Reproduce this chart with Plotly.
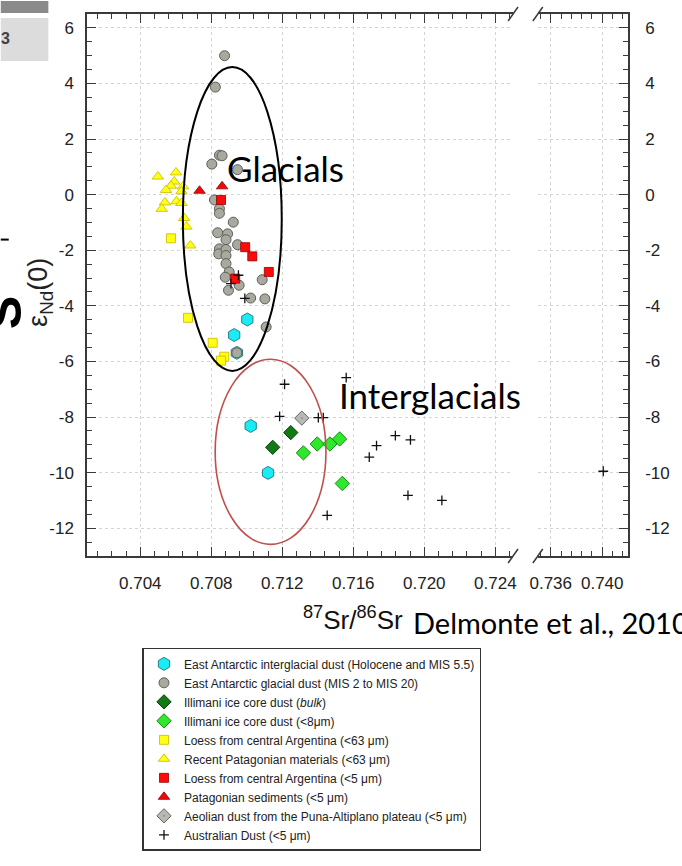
import plotly.graph_objects as go

# ---------------- data ----------------
cyan_x = [0.71003, 0.70929, 0.70944, 0.71022, 0.71120]
cyan_y = [-4.49, -5.05, -5.69, -8.32, -10.01]

gray_x = [0.70875, 0.70823, 0.70846, 0.70861, 0.70803, 0.70948, 0.70818, 0.70846,
          0.70846, 0.70924, 0.70836, 0.70892, 0.70883, 0.70948, 0.70846, 0.70842,
          0.70883, 0.70883, 0.70883, 0.70901, 0.70879, 0.70957, 0.70897, 0.71087,
          0.71022, 0.71102, 0.71109, 0.70944]
gray_y = [5.00, 3.87, 1.42, 1.40, 1.10, 0.90, -0.19, -0.51,
          -0.67, -0.99, -1.37, -1.41, -1.62, -1.80, -1.95, -2.13,
          -1.97, -2.19, -2.48, -2.78, -2.97, -3.26, -3.44, -3.06,
          -3.72, -3.75, -4.76, -5.69]

dkgreen_x = [0.71248, 0.71146]
dkgreen_y = [-8.56, -9.09]

ltgreen_x = [0.71397, 0.71468, 0.71523, 0.71319, 0.71538]
ltgreen_y = [-8.97, -8.97, -8.79, -9.29, -10.39]

ysq_x = [0.70573, 0.70669, 0.70808, 0.70873, 0.70855]
ysq_y = [-1.57, -4.43, -5.33, -5.83, -5.97]

ytri_x = [0.70499, 0.70601, 0.70591, 0.70573, 0.70545, 0.70641, 0.70632,
          0.70539, 0.70604, 0.70632, 0.70521, 0.70647, 0.70660, 0.70682]
ytri_y = [0.65, 0.80, 0.47, 0.32, 0.17, 0.30, 0.12,
          -0.28, -0.24, -0.30, -0.51, -0.84, -1.15, -1.83]

rsq_x = [0.70855, 0.70991, 0.71031, 0.71124, 0.70935]
rsq_y = [-0.19, -1.89, -2.22, -2.78, -3.02]

rtri_x = [0.70734, 0.70861]
rtri_y = [0.14, 0.30]

puna_x = [0.71310]
puna_y = [-8.04]

aus_x = [0.70953, 0.70911, 0.70989, 0.71213, 0.71560, 0.71185, 0.71403, 0.71431,
         0.71837, 0.71922, 0.71731, 0.71690, 0.71908, 0.72099, 0.71453]
aus_y = [-2.90, -3.20, -3.73, -6.82, -6.58, -7.98, -8.02, -8.02,
         -8.67, -8.82, -9.03, -9.44, -10.82, -11.00, -11.54]
aus_far_x = [0.74008]
aus_far_y = [-9.95]

legend_names = [
    "East Antarctic interglacial dust (Holocene and MIS 5.5)",
    "East Antarctic glacial dust (MIS 2 to MIS 20)",
    "Illimani ice core dust (<i>bulk</i>)",
    "Illimani ice core dust (&lt;8\u03bcm)",
    "Loess from central Argentina (&lt;63 \u03bcm)",
    "Recent Patagonian materials (&lt;63 \u03bcm)",
    "Loess from central Argentina (&lt;5 \u03bcm)",
    "Patagonian sediments (&lt;5 \u03bcm)",
    "Aeolian dust from the Puna-Altiplano plateau (&lt;5 \u03bcm)",
    "Australian Dust (&lt;5 \u03bcm)",
]

x_left_ticks = [0.704, 0.708, 0.712, 0.716, 0.720, 0.724]
x_right_ticks = [0.736, 0.740]
y_ticks = [6, 4, 2, 0, -2, -4, -6, -8, -10, -12]

# ---------------- layout helpers ----------------
W, H = 682, 866
L, R, T, B = 87, 633, 13, 556


def px(xp):
    return (xp - L) / (R - L)


def py(yp):
    return (B - yp) / (B - T)


fig = go.Figure()


def add(xs, ys, name, symbol, size, color, lcolor, lw=1.0, xa="x", ya="y", show=True):
    fig.add_trace(go.Scatter(
        x=xs, y=ys, mode="markers", name=name, showlegend=show,
        xaxis=xa, yaxis=ya,
        marker=dict(symbol=symbol, size=size, color=color,
                    line=dict(color=lcolor, width=lw)),
    ))


add(cyan_x, cyan_y, legend_names[0], "hexagon", 13, "#19ecf5", "#2d7f86")
add(gray_x, gray_y, legend_names[1], "circle", 10, "#a9a9a0", "#5f5f5a")
add(dkgreen_x, dkgreen_y, legend_names[2], "diamond", 11, "#127a12", "#0a3f0a")
add(ltgreen_x, ltgreen_y, legend_names[3], "diamond", 11, "#2ee82a", "#1c8a1c")
add(ysq_x, ysq_y, legend_names[4], "square", 9, "#ffff10", "#c9b800", 0.8)
add(ytri_x, ytri_y, legend_names[5], "triangle-up", 10, "#ffff10", "#c9b800", 0.8)
add(rsq_x, rsq_y, legend_names[6], "square", 9, "#ff0a0a", "#8f0000", 0.8)
add(rtri_x, rtri_y, legend_names[7], "triangle-up", 10, "#ee0a0a", "#8f0000", 0.8)
add(puna_x, puna_y, legend_names[8], "diamond-dot", 11, "#b9b9b4", "#666666")
add(aus_x, aus_y, legend_names[9], "cross-thin", 7, "#111111", "#111111", 1.3)
add(aus_far_x, aus_far_y, legend_names[9], "cross-thin", 7, "#111111", "#111111", 1.3,
    xa="x2", ya="y2", show=False)

tick_font = dict(family="Liberation Sans, Arial", size=17, color="#222222")
axis_common = dict(
    showline=True, linecolor="#3a3a3a", linewidth=1.5,
    ticks="inside", ticklen=9, tickwidth=1.2, tickcolor="#3a3a3a",
    showgrid=True, gridcolor="#d4d4d4", griddash="dot", gridwidth=1,
    zeroline=False, tickfont=tick_font,
)

split_l = px(517)
split_r = px(542)

fig.update_layout(
    width=W, height=H,
    margin=dict(l=L, r=W - R, t=T, b=H - B),
    paper_bgcolor="white", plot_bgcolor="white",
    xaxis=dict(domain=[0, split_l], range=[0.701, 0.725], anchor="y",
               tickvals=x_left_ticks, ticktext=[f"{v:.3f}" for v in x_left_ticks],
               mirror="ticks", ticklabelstandoff=11,
               minor=dict(tick0=0.704, dtick=0.0008, ticks="inside", ticklen=5,
                          tickcolor="#3a3a3a", showgrid=False),
               **axis_common),
    xaxis2=dict(domain=[split_r, 1], range=[0.735, 0.742], anchor="y2",
                tickvals=x_right_ticks, ticktext=[f"{v:.3f}" for v in x_right_ticks],
                mirror="ticks", ticklabelstandoff=11,
                minor=dict(tick0=0.736, dtick=0.0008, ticks="inside", ticklen=5,
                           tickcolor="#3a3a3a", showgrid=False),
                **axis_common),
    yaxis=dict(range=[-13, 6.5], anchor="x", tickvals=y_ticks,
               ticktext=[str(v) for v in y_ticks], ticklabelstandoff=8,
               minor=dict(tick0=0, dtick=0.5, ticks="inside", ticklen=5,
                          tickcolor="#3a3a3a", showgrid=False),
               **axis_common),
    yaxis2=dict(range=[-13, 6.5], anchor="x2", side="right", matches="y",
                tickvals=y_ticks, ticktext=[str(v) for v in y_ticks],
                ticklabelstandoff=12,
                minor=dict(tick0=0, dtick=0.5, ticks="inside", ticklen=5,
                           tickcolor="#3a3a3a", showgrid=False),
                **axis_common),
    legend=dict(x=px(143), y=py(648), xanchor="left", yanchor="top",
                bgcolor="white", bordercolor="#333333", borderwidth=1.5,
                font=dict(family="Liberation Sans, Arial", size=12, color="#222222"),
                tracegroupgap=0),
    showlegend=True,
)

# ellipses (annotation outlines)
fig.add_shape(type="circle", xref="x", yref="y", x0=0.70640, x1=0.71197, y0=-6.34, y1=4.59,
              line=dict(color="black", width=2))
fig.add_shape(type="circle", xref="x", yref="y", x0=0.70822, x1=0.71446, y0=-12.58, y1=-5.92,
              line=dict(color="#c0504d", width=1.6))

# axis break marks
for xb in (517, 542):
    for yb in (T, B):
        fig.add_shape(type="line", xref="paper", yref="paper",
                      x0=px(xb - 5), y0=py(yb + 7), x1=px(xb + 5), y1=py(yb - 7),
                      line=dict(color="#3a3a3a", width=1.5))

# text annotations
fig.add_annotation(x=0.70877, y=0.97, xref="x", yref="y", text="Glacials",
                   showarrow=False, xanchor="left", yanchor="middle",
                   font=dict(family="Lato", size=35, color="black"))
fig.add_annotation(x=0.71510, y=-7.2, xref="x", yref="y", text="Interglacials",
                   showarrow=False, xanchor="left", yanchor="middle",
                   font=dict(family="Lato", size=35, color="black"))
fig.add_annotation(x=px(303), y=py(619), xref="paper", yref="paper",
                   text="<sup>87</sup>Sr/<sup>86</sup>Sr",
                   showarrow=False, xanchor="left", yanchor="middle",
                   font=dict(family="Liberation Sans, Arial", size=26, color="#111111"))
fig.add_annotation(x=px(414), y=py(623), xref="paper", yref="paper",
                   text="Delmonte et al., 2010",
                   showarrow=False, xanchor="left", yanchor="middle",
                   font=dict(family="Lato", size=29, color="black"))
fig.add_annotation(x=px(40), y=py(292), xref="paper", yref="paper",
                   text="\u03b5<sub>Nd</sub>(0)", textangle=-90,
                   showarrow=False, xanchor="center", yanchor="middle",
                   font=dict(family="Liberation Sans, Arial", size=27, color="#222222"))

# slide-edge artefacts at top left
fig.add_shape(type="rect", xref="paper", yref="paper", x0=px(0), x1=px(48), y0=py(12), y1=py(0),
              fillcolor="#8a8a8a", line=dict(width=0), layer="below")
fig.add_shape(type="rect", xref="paper", yref="paper", x0=px(0), x1=px(48), y0=py(60), y1=py(17),
              fillcolor="#dcdcdc", line=dict(width=0), layer="below")
fig.add_annotation(x=px(5), y=py(38), xref="paper", yref="paper", text="<b>3</b>",
                   showarrow=False, xanchor="center", yanchor="middle",
                   font=dict(family="Liberation Sans, Arial", size=16, color="#404040"))
fig.add_shape(type="line", xref="paper", yref="paper", x0=px(0), x1=px(8), y0=py(239), y1=py(239),
              line=dict(color="black", width=2))
fig.add_annotation(x=px(4), y=py(312), xref="paper", yref="paper", text="<b>S</b>",
                   textangle=-90, showarrow=False, xanchor="center", yanchor="middle",
                   font=dict(family="Liberation Sans, Arial", size=50, color="black"))

fig.write_html("out.html")
